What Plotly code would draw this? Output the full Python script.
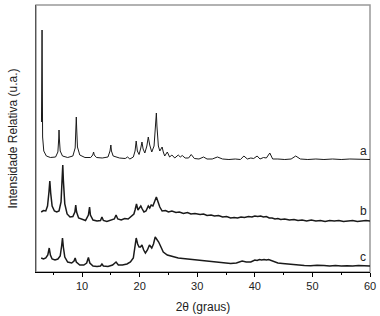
import plotly.graph_objects as go

# 2θ (graus) e intensidade relativa (u.a.), curvas deslocadas

# curva a
a_2theta = [2.95, 3.05, 3.15, 3.35, 3.8, 4.5, 5.4, 5.8, 5.95, 6.0, 6.06, 6.2, 6.6,
            7.5, 8.4, 8.8, 8.95, 9.0, 9.06, 9.2, 9.6, 10.5, 11.5, 11.85, 12.0, 12.12,
            12.5, 13.5, 14.5, 14.85, 15.0, 15.1, 15.4, 16.5, 17.5, 17.9, 18.3, 18.9,
            19.2, 19.4, 19.6, 19.9, 20.2, 20.4, 20.6, 20.9, 21.25, 21.5, 21.75, 22.1,
            22.5, 22.8, 22.9, 23.0, 23.25, 23.5, 23.9, 24.1, 24.35, 24.8, 25.0, 25.2,
            25.6, 26.1, 26.7, 27.05, 27.4, 27.9, 28.5, 28.95, 29.5, 30.3, 31.1, 31.7,
            32.6, 33.5, 34.4, 35.5, 36.6, 37.5, 38.1, 38.7, 39.3, 39.8, 40.4, 40.9,
            41.5, 42.0, 42.6, 43.1, 44.0, 45.2, 46.3, 47.1, 47.9, 49.2, 50.6, 52.0,
            53.5, 55.0, 56.5, 58.0, 60.0]
a_int = [150, 242, 135, 121, 116, 114.5, 115, 120, 134, 142, 133, 121, 116,
         114.5, 116, 124, 146, 155, 144, 125, 117, 114.5, 114.5, 117, 120, 117,
         114.5, 114, 115, 121, 127, 121, 116, 114, 113.5, 115, 113, 115,
         121, 131, 121, 117.5, 124, 130, 123, 119, 126, 135, 127, 120,
         126, 148, 159, 146, 126, 121, 125, 120, 116, 120, 117, 115,
         117, 114, 117, 115, 116.5, 114, 114, 117.5, 113.5, 113, 115, 113,
         113, 115, 113, 112.5, 113, 112.5, 116, 113, 114, 113.5, 116, 113,
         114.5, 114, 119, 113, 113, 112.5, 113, 116, 113, 112.5, 113, 112.5,
         113, 112.5, 113, 112.5, 112.5]

# curva b
b_2theta = [2.9, 3.3, 3.7, 4.0, 4.25, 4.4, 4.55, 4.8, 5.2, 5.6, 6.0, 6.35, 6.55,
            6.65, 6.75, 7.0, 7.4, 7.9, 8.4, 8.75, 8.9, 9.05, 9.4, 10.0, 10.6, 11.1,
            11.3, 11.45, 11.9, 12.6, 13.2, 13.45, 13.7, 14.3, 15.0, 15.6, 15.9, 16.2,
            16.8, 17.4, 18.0, 18.6, 19.0, 19.2, 19.45, 19.7, 19.95, 20.2, 20.45, 20.75,
            21.1, 21.5, 21.75, 22.0, 22.3, 22.6, 22.9, 23.2, 23.5, 23.9, 24.5, 25.0,
            25.6, 26.3, 26.9, 27.6, 28.3, 28.9, 29.6, 30.5, 31.1, 31.7, 32.4, 33.0,
            33.7, 34.4, 35.1, 35.8, 36.4, 37.0, 37.6, 38.2, 38.9, 39.5, 40.0, 40.5,
            41.0, 41.5, 42.0, 42.5, 43.0, 43.5, 44.0, 44.5, 45.2, 46.0, 46.8, 47.5,
            48.2, 49.0, 49.8, 50.6, 51.4, 52.2, 53.0, 53.8, 54.6, 55.4, 56.2, 57.0,
            57.8, 58.6, 59.3, 60.0]
b_int = [60, 61.5, 61, 66, 80, 91, 79, 66, 61, 60, 61, 70, 95,
         107, 92, 68, 58, 55, 55.5, 60, 67, 60, 54, 52.5, 51.5, 57,
         65, 57, 52, 51, 51.5, 55, 51.5, 50.5, 51.5, 53, 57, 53,
         52, 53.5, 53, 56, 58, 62, 68, 62, 64, 66, 63, 60,
         61, 66, 64, 67, 66, 70, 75, 70, 65, 61, 61.5, 60,
         61, 59.5, 60, 58.5, 59.5, 58, 58.5, 57.5, 58, 56.5, 57, 56,
         56.5, 55, 55.5, 54, 54.5, 54, 55, 54.5, 55.5, 55, 56, 55.5,
         56, 55, 55.5, 54, 54, 53, 53.5, 52.5, 53, 52, 52.5, 51.5,
         52, 51, 52, 51, 51.5, 50.5, 51.5, 51, 51.5, 50.5, 51, 51.5,
         50.5, 51, 51.5, 51]

# curva c
c_2theta = [2.9, 3.3, 3.7, 4.05, 4.3, 4.5, 4.8, 5.3, 5.8, 6.2, 6.45, 6.6, 6.75,
            7.0, 7.5, 8.2, 8.6, 8.8, 9.0, 9.6, 10.3, 10.8, 11.1, 11.35, 11.9, 12.6,
            13.2, 13.45, 13.7, 14.5, 15.3, 15.9, 16.3, 17.0, 17.8, 18.4, 18.9, 19.2,
            19.4, 19.65, 19.9, 20.15, 20.4, 20.7, 21.0, 21.35, 21.7, 22.1, 22.4, 22.7,
            23.0, 23.3, 23.7, 24.1, 24.8, 25.4, 25.9, 26.7, 27.5, 28.4, 29.4, 30.4,
            31.5, 32.8, 34.1, 35.0, 35.8, 36.8, 37.8, 38.5, 39.3, 40.0, 40.4, 40.8,
            41.2, 41.6, 42.0, 42.4, 43.0, 43.5, 44.0, 44.8, 45.5, 46.5, 47.5, 48.6,
            49.7, 50.8, 52.0, 53.0, 54.0, 55.0, 56.0, 57.0, 58.0, 59.0, 60.0]
c_int = [14, 13, 14, 17, 24, 17, 13, 12, 13, 16, 26, 34, 25,
         15, 10, 9, 11, 14, 10, 7, 7, 9, 14.5, 9, 6, 5.5,
         6, 8, 6, 5.5, 7, 10, 7, 7, 8, 10, 14, 26,
         34, 28, 25, 25, 27, 22, 19, 22, 27, 24, 28, 35,
         33, 30, 25, 20, 17, 16, 15, 14, 13.5, 13, 12, 11.5,
         11, 10.5, 10, 9, 8.5, 9, 11, 10, 10, 12, 11.5, 12.5,
         12, 12.5, 12, 12.5, 11, 10, 9, 8.5, 8, 7.5, 7, 6.5,
         6.3, 6.8, 6.5, 6, 6.5, 6, 6.3, 6, 6.5, 6, 6]

fig = go.Figure()

for xs, ys, w in [(a_2theta, a_int, 1.0), (b_2theta, b_int, 1.5), (c_2theta, c_int, 1.5)]:
    fig.add_trace(go.Scatter(
        x=xs, y=ys, mode='lines',
        line=dict(color='#1a1a1a', width=w),
        showlegend=False
    ))

# rótulos das curvas
for txt, yv in [('a', 121), ('b', 61), ('c', 15)]:
    fig.add_annotation(x=58.8, y=yv, text=txt, showarrow=False,
                       font=dict(size=12, color='#222222'))

# moldura cinza (topo e direita)
fig.add_shape(type='rect', xref='paper', yref='paper', x0=0, x1=1, y0=0, y1=1,
              line=dict(color='#999999', width=1.5), layer='below')

fig.update_xaxes(
    range=[2, 60], dtick=10, tick0=0,
    showline=True, linecolor='black', linewidth=1.2,
    ticks='outside', ticklen=4, tickcolor='black',
    minor=dict(dtick=5, tick0=0, ticks='outside', ticklen=2, tickcolor='black'),
    showgrid=False, zeroline=False,
    tickfont=dict(size=11, color='#222222'),
    title=dict(text='2θ (graus)', font=dict(size=12, color='#222222'), standoff=11)
)
fig.update_yaxes(
    range=[0, 267], showticklabels=False, ticks='',
    showline=True, linecolor='#555555', linewidth=1.2,
    showgrid=False, zeroline=False,
    title=dict(text='Intensidade Relativa (u.a.)', font=dict(size=12, color='#222222'),
               standoff=14)
)

fig.update_layout(
    width=380, height=316,
    margin=dict(l=36, r=10, t=5, b=44),
    font=dict(family='Liberation Sans, Arial, sans-serif'),
    plot_bgcolor='white', paper_bgcolor='white'
)

# margem da página a zero para caber na janela
fig.write_html('out.html', config={'displayModeBar': False},
               post_script="document.body.style.margin='0';")
